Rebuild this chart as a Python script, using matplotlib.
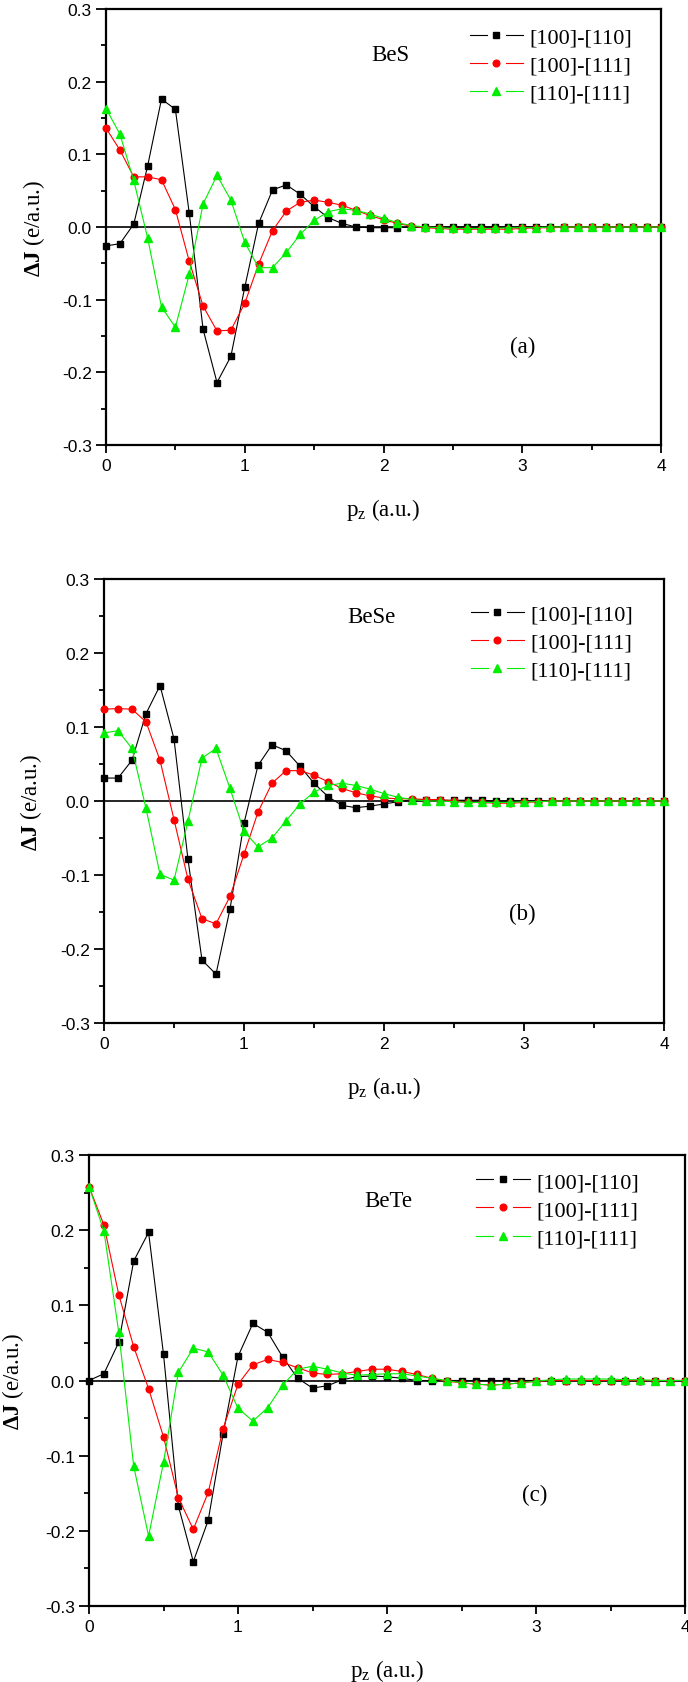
import matplotlib.pyplot as plt
from matplotlib.ticker import MultipleLocator
from matplotlib.legend_handler import HandlerLine2D
from matplotlib.lines import Line2D
import numpy as np

plt.rcParams['mathtext.fontset'] = 'custom'
plt.rcParams['mathtext.rm'] = 'Liberation Serif'
plt.rcParams['mathtext.it'] = 'Liberation Serif:italic'
plt.rcParams['mathtext.bf'] = 'Liberation Serif:bold'

# momentum grid (a.u.)
pz = np.linspace(0, 4, 41)

series_labels = ['[100]-[110]', '[100]-[111]', '[110]-[111]']
compounds = ['BeS', 'BeSe', 'BeTe']
panel_tags = ['(a)', '(b)', '(c)']

# BeS anisotropies
bes_100_110 = [-0.026, -0.023, 0.004, 0.084, 0.176, 0.162, 0.019, -0.141, -0.214, -0.178,
               -0.083, 0.005, 0.051, 0.058, 0.045, 0.028, 0.013, 0.005, 0.000, -0.001,
               -0.001, -0.001, 0.000, 0.000, 0.000, 0.000, 0.000, 0.000, 0.000, 0.000,
               0.000, 0.000, 0.000, 0.000, 0.000, 0.000, 0.000, 0.000, 0.000, 0.000, 0.000]
bes_100_111 = [0.136, 0.106, 0.069, 0.069, 0.065, 0.024, -0.047, -0.109, -0.143, -0.142,
               -0.105, -0.051, -0.005, 0.022, 0.034, 0.037, 0.034, 0.030, 0.023, 0.016,
               0.010, 0.005, 0.001, -0.001, -0.002, -0.003, -0.003, -0.003, -0.003, -0.003,
               -0.002, -0.001, -0.001, 0.000, 0.000, 0.000, 0.000, 0.000, 0.000, 0.000, 0.000]
bes_110_111 = [0.163, 0.128, 0.064, -0.015, -0.110, -0.138, -0.065, 0.032, 0.071, 0.037,
               -0.021, -0.056, -0.056, -0.035, -0.010, 0.009, 0.021, 0.025, 0.023, 0.018,
               0.012, 0.006, 0.002, 0.000, -0.001, -0.002, -0.002, -0.002, -0.002, -0.001,
               -0.001, -0.001, 0.000, 0.000, 0.000, 0.000, 0.000, 0.000, 0.000, 0.000, 0.000]

# BeSe anisotropies
bese_100_110 = [0.031, 0.031, 0.055, 0.118, 0.156, 0.084, -0.079, -0.215, -0.234, -0.146,
                -0.030, 0.048, 0.076, 0.068, 0.047, 0.024, 0.006, -0.006, -0.009, -0.007,
                -0.004, -0.001, 0.001, 0.002, 0.001, 0.001, 0.001, 0.001, 0.000, 0.000,
                0.000, 0.000, 0.000, 0.000, 0.000, 0.000, 0.000, 0.000, 0.000, 0.000, 0.000]
bese_100_111 = [0.124, 0.125, 0.124, 0.107, 0.055, -0.025, -0.106, -0.159, -0.166, -0.129,
                -0.072, -0.015, 0.024, 0.041, 0.041, 0.035, 0.026, 0.017, 0.011, 0.007,
                0.004, 0.003, 0.003, 0.002, 0.002, 0.000, -0.002, -0.002, -0.003, -0.003,
                -0.002, -0.001, 0.000, 0.000, 0.000, 0.000, 0.000, 0.000, 0.000, 0.000, 0.000]
bese_110_111 = [0.092, 0.095, 0.071, -0.010, -0.099, -0.107, -0.027, 0.058, 0.071, 0.017,
                -0.041, -0.062, -0.050, -0.027, -0.004, 0.012, 0.021, 0.024, 0.021, 0.016,
                0.010, 0.005, 0.002, 0.000, 0.000, -0.001, -0.002, -0.002, -0.002, -0.002,
                -0.001, -0.001, 0.000, 0.000, 0.000, 0.000, 0.000, 0.000, 0.000, 0.000, 0.000]

# BeTe anisotropies
bete_100_110 = [0.000, 0.009, 0.051, 0.159, 0.197, 0.035, -0.167, -0.241, -0.186, -0.071,
                0.032, 0.076, 0.064, 0.031, 0.003, -0.010, -0.007, 0.001, 0.005, 0.006,
                0.005, 0.003, 0.000, 0.000, 0.000, 0.000, 0.000, 0.000, 0.000, 0.000,
                0.000, 0.000, 0.000, 0.000, 0.000, 0.000, 0.000, 0.000, 0.000, 0.000, 0.000]
bete_100_111 = [0.258, 0.207, 0.114, 0.045, -0.011, -0.075, -0.156, -0.198, -0.149, -0.064,
                -0.005, 0.021, 0.028, 0.024, 0.017, 0.010, 0.008, 0.009, 0.012, 0.015,
                0.015, 0.012, 0.008, 0.003, -0.001, -0.003, -0.005, -0.006, -0.005, -0.003,
                -0.001, 0.000, 0.000, 0.000, 0.000, 0.000, 0.000, 0.000, 0.000, 0.000, 0.000]
bete_110_111 = [0.258, 0.199, 0.064, -0.114, -0.207, -0.109, 0.011, 0.043, 0.038, 0.007,
                -0.037, -0.054, -0.036, -0.006, 0.015, 0.019, 0.015, 0.010, 0.007, 0.008,
                0.009, 0.009, 0.006, 0.003, 0.000, -0.003, -0.005, -0.006, -0.005, -0.003,
                -0.001, 0.001, 0.002, 0.002, 0.002, 0.002, 0.001, 0.001, 0.000, 0.000, 0.000]

yticks = [-0.3, -0.2, -0.1, 0.0, 0.1, 0.2, 0.3]
xticks = [0, 1, 2, 3, 4]

colors = ['black', '#ff0000', '#00ee00']
markers = ['s', 'o', '^']
msizes = [4.3, 4.8, 5.2]

serif = 'Liberation Serif'
sans = 'Liberation Sans'


class HandlerGapLine(HandlerLine2D):
    """ Origin-like legend key: line - marker - line, with gaps round the marker. """
    def create_artists(self, legend, orig_handle, xdescent, ydescent, width, height,
                       fontsize, trans):
        y = (height - ydescent) / 2.0
        x0 = -xdescent
        x1 = -xdescent + width
        xm = 0.5 * (x0 + x1)
        g = 0.18 * width
        left = Line2D([x0, xm - g], [y, y])
        right = Line2D([xm + g, x1], [y, y])
        mark = Line2D([xm], [y])
        for art in (left, right, mark):
            self.update_prop(art, orig_handle, legend)
            art.set_transform(trans)
        left.set_marker('')
        right.set_marker('')
        mark.set_linestyle('None')
        return [left, right, mark]


def draw_panel(ax, curves, compound, tag, name_pos, tag_pos, leg_anchor, ylabel_x, xlabel_y):
    """ One Origin-style panel: three anisotropy curves with zero line. """
    ax.axhline(0, color='black', linewidth=1.2, zorder=1)
    for y, lab, c, m, ms in zip(curves, series_labels, colors, markers, msizes):
        ax.plot(pz, y, color=c, marker=m, markersize=ms, linewidth=0.8,
                label=lab, clip_on=False, zorder=3)

    ax.set_xlim(0, 4)
    ax.set_ylim(-0.3, 0.3)
    ax.set_xticks(xticks)
    ax.set_xticklabels([str(v) for v in xticks])
    ax.set_yticks(yticks)
    ax.set_yticklabels([f'{v:.1f}' for v in yticks])
    ax.xaxis.set_minor_locator(MultipleLocator(0.5))
    ax.yaxis.set_minor_locator(MultipleLocator(0.05))
    ax.tick_params(which='both', direction='out', top=False, right=False, width=1.3)
    ax.tick_params(axis='y', which='major', length=7.2, pad=2.9)
    ax.tick_params(axis='y', which='minor', length=3.6)
    ax.tick_params(axis='x', which='major', length=5.8, pad=3.6)
    ax.tick_params(axis='x', which='minor', length=3.6)
    for lbl in ax.get_xticklabels() + ax.get_yticklabels():
        lbl.set_fontfamily(sans)
        lbl.set_fontsize(12.5)
    for sp in ax.spines.values():
        sp.set_linewidth(1.6)

    ax.set_xlabel(r'p$_{\rm z}$ (a.u.)', fontsize=16.5, family=serif)
    ax.xaxis.set_label_coords(0.5, xlabel_y)
    ax.set_ylabel(r'$\mathbf{\Delta J}$ (e/a.u.)', fontsize=16.5, family=serif)
    ax.yaxis.set_label_coords(ylabel_x, 0.5)

    ax.text(name_pos[0], name_pos[1], compound, fontsize=16.5, family=serif,
            ha='center', va='center')
    ax.text(tag_pos[0], tag_pos[1], tag, fontsize=16.5, family=serif,
            ha='center', va='center')

    ax.legend(loc='upper left', bbox_to_anchor=leg_anchor, bbox_transform=ax.transData,
              frameon=False, borderpad=0, borderaxespad=0, handlelength=2.4,
              handletextpad=0.3, labelspacing=0.34, numpoints=1,
              handler_map={Line2D: HandlerGapLine()},
              prop={'family': serif, 'size': 16})


fig = plt.figure(figsize=(6.88, 16.83), dpi=100)
H = 1683.0
W = 688.0

ax_a = fig.add_axes([106 / W, 1 - 446 / H, 555 / W, 436 / H])
ax_b = fig.add_axes([104 / W, 1 - 1024 / H, 560 / W, 444 / H])
ax_c = fig.add_axes([89 / W, 1 - 1607 / H, 596 / W, 451 / H])

draw_panel(ax_a, [bes_100_110, bes_100_111, bes_110_111], compounds[0], panel_tags[0],
           (2.05, 0.238), (3.0, -0.164), (2.62, 0.275), -0.106, -0.117)
draw_panel(ax_b, [bese_100_110, bese_100_111, bese_110_111], compounds[1], panel_tags[1],
           (1.91, 0.249), (2.99, -0.152), (2.62, 0.266), -0.107, -0.115)
draw_panel(ax_c, [bete_100_110, bete_100_111, bete_110_111], compounds[2], panel_tags[2],
           (2.01, 0.239), (2.99, -0.152), (2.60, 0.278), -0.105, -0.113)

fig.savefig('out.png', dpi=100)
